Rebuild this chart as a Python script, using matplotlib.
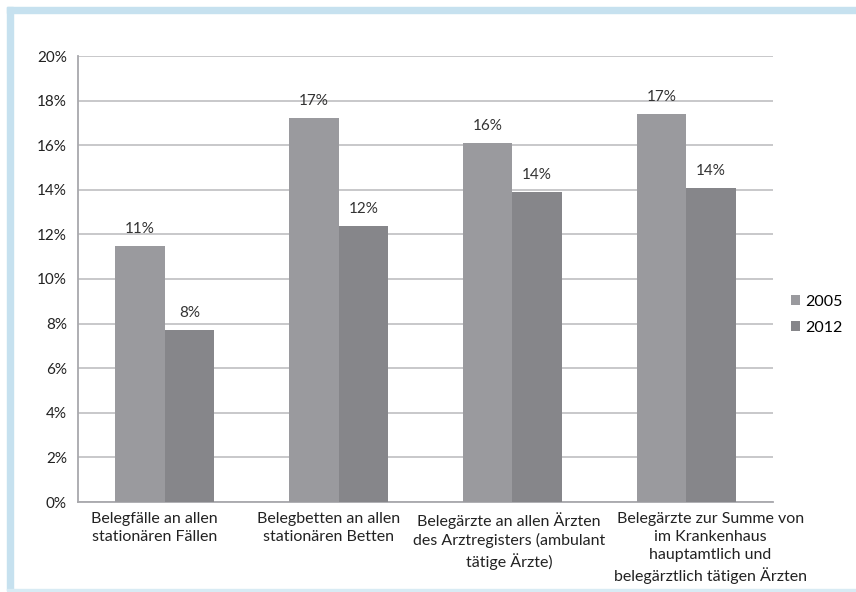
import numpy as np
import matplotlib
matplotlib.use("Agg")
import matplotlib.pyplot as plt
from matplotlib.patches import Rectangle

categories = [
    "Belegfälle an allen\nstationären Fällen",
    "Belegbetten an allen\nstationären Betten",
    "Belegärzte an allen Ärzten\ndes Arztregisters (ambulant\ntätige Ärzte)",
    "Belegärzte zur Summe von\nim Krankenhaus\nhauptamtlich und\nbelegärztlich tätigen Ärzten",
]
years = ["2005", "2012"]
values_2005 = [11.48, 17.22, 16.1, 17.4]
values_2012 = [7.71, 12.38, 13.9, 14.08]
yticks = [0, 2, 4, 6, 8, 10, 12, 14, 16, 18, 20]

plt.rcParams['font.family'] = ['Lato', 'DejaVu Sans']

W, H = 856, 592
fig = plt.figure(figsize=(W / 100, H / 100), dpi=100)
ax = fig.add_axes([78 / W, 1 - 502 / H, (773 - 78) / W, (502 - 56) / H])

# light blue frame
frame_col = '#c6e1ef'
fig.patches.append(Rectangle((7 / W, 1 - 13 / H), 1, 6 / H, transform=fig.transFigure,
                             color=frame_col, zorder=0))
fig.patches.append(Rectangle((7 / W, 1 - 590 / H), 6 / W, (590 - 7) / H, transform=fig.transFigure,
                             color=frame_col, zorder=0))
fig.patches.append(Rectangle((7 / W, 1 - 591 / H), 1, 2 / H, transform=fig.transFigure,
                             color='#d8ebf4', zorder=0))

x = np.arange(len(categories))
bw = 0.285
b1 = ax.bar(x - bw / 2, values_2005, bw, color='#9a9a9e', label=years[0], zorder=3)
b2 = ax.bar(x + bw / 2, values_2012, bw, color='#86868a', label=years[1], zorder=3)

for bars, vals in [(b1, values_2005), (b2, values_2012)]:
    for r, v in zip(bars, vals):
        ax.text(r.get_x() + r.get_width() / 2, v + 0.45, f"{round(v):.0f}%",
                ha='center', va='bottom', fontsize=11, color='#333333')

ax.set_xlim(-0.5, 3.5)
ax.set_ylim(0, 20)
ax.set_yticks(yticks)
ax.set_yticklabels([f"{t}%" for t in yticks], fontsize=11, color='#222222')
ax.yaxis.grid(True, color='#c4c4c6', linewidth=1.3, zorder=0)
ax.set_axisbelow(True)
ax.tick_params(axis='y', length=0, pad=8)
ax.set_xticks([])

# category labels (the wrapped text sits a bit off the group centres, as in the original)
label_shift = [-0.06, -0.06, -0.02, 0.14]
for i, (cat, sh) in enumerate(zip(categories, label_shift)):
    ax.text(i + sh, -0.022, cat, transform=ax.get_xaxis_transform(), ha='center', va='top',
            fontsize=11.5, color='#222222', linespacing=1.38, multialignment='center')

for s in ['top', 'right']:
    ax.spines[s].set_visible(False)
for s in ['left', 'bottom']:
    ax.spines[s].set_color('#a8a8ac')
    ax.spines[s].set_linewidth(1.3)

leg = ax.legend(loc='center left', bbox_to_anchor=(1.005, 0.42), frameon=False,
                fontsize=11.5, handlelength=0.6, handleheight=0.6, handletextpad=0.3,
                labelspacing=0.75)

fig.savefig("out.png", dpi=100, facecolor='white')
